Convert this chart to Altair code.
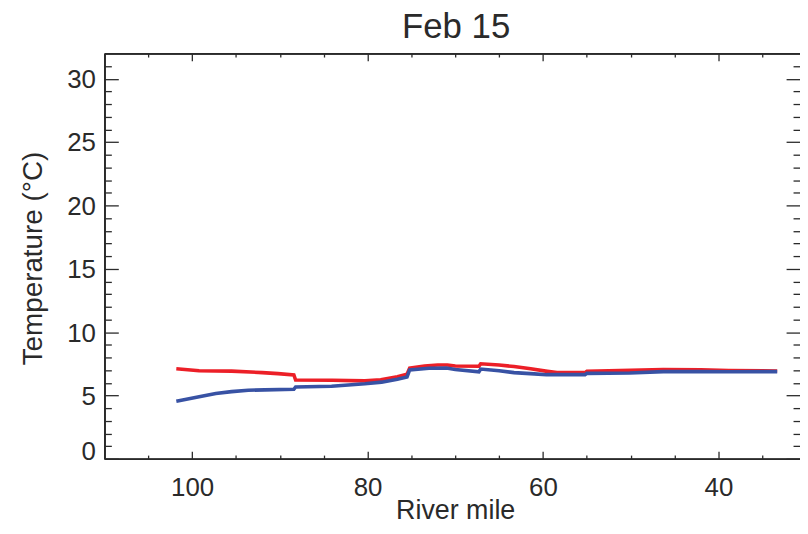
import altair as alt
import pandas as pd

# ---- text ----
title_text = "Feb 15"
x_title = "River mile"
y_title = "Temperature (°C)"

# ---- series ----
red_mile = [101.8, 99.2, 95.5, 92.0, 90.2, 88.4, 88.2, 84.0, 80.3, 78.5, 76.6, 75.5,
            75.2, 73.5, 72.0, 70.9, 70.0, 67.3, 67.1, 65.0, 63.3, 61.4, 59.5, 58.4,
            55.2, 55.0, 50.0, 46.3, 42.0, 38.8, 33.3]
red_temp = [7.10, 6.95, 6.92, 6.80, 6.72, 6.62, 6.22, 6.20, 6.15, 6.24, 6.48, 6.68,
            7.15, 7.33, 7.40, 7.40, 7.32, 7.30, 7.50, 7.40, 7.28, 7.10, 6.90, 6.80,
            6.80, 6.90, 6.98, 7.05, 7.02, 6.97, 6.93]

blue_mile = [101.8, 99.2, 97.3, 95.5, 93.6, 91.7, 88.4, 88.2, 84.1, 80.3, 78.4, 76.6,
             75.5, 75.2, 73.0, 71.0, 70.0, 67.3, 67.1, 65.0, 63.3, 61.0, 59.6, 55.2,
             55.0, 50.1, 46.3, 42.0, 38.8, 33.3]
blue_temp = [4.55, 4.89, 5.15, 5.30, 5.41, 5.44, 5.49, 5.67, 5.72, 5.92, 6.05, 6.28,
             6.45, 7.02, 7.15, 7.16, 7.05, 6.87, 7.08, 6.95, 6.80, 6.70, 6.64, 6.64,
             6.74, 6.77, 6.88, 6.88, 6.87, 6.88]

# ---- axes ----
x_domain = [30.7, 110]
y_domain = [0, 32]
x_major = [100, 80, 60, 40]
x_minor = [105, 95, 90, 85, 75, 70, 65, 55, 50, 45, 35]
y_major = [0, 5, 10, 15, 20, 25, 30]
y_minor = [1, 2, 3, 4, 6, 7, 8, 9, 11, 12, 13, 14, 16, 17, 18, 19,
           21, 22, 23, 24, 26, 27, 28, 29, 31]

rows = []
for i, (m, t) in enumerate(zip(red_mile, red_temp)):
    rows.append({"mile": m, "temp": t, "series": "upper", "idx": i})
for i, (m, t) in enumerate(zip(blue_mile, blue_temp)):
    rows.append({"mile": m, "temp": t, "series": "lower", "idx": i})
df = pd.DataFrame(rows)

W, H = 700, 408
INK = "#2a2a2a"
FONT = "Liberation Sans"
RED = "#ec1f27"
BLUE = "#3852a4"

xs = alt.Scale(domain=x_domain, reverse=True, nice=False, zero=False)
ys = alt.Scale(domain=y_domain, nice=False, zero=False)


def tick_axis(orient, values, size, offset, show_line=True):
    return alt.Axis(orient=orient, values=values, tickSize=size, offset=offset,
                    labels=False, title=None, domain=show_line, domainColor=INK,
                    domainWidth=1.6, ticks=True, tickColor=INK, tickWidth=1.3,
                    grid=False, minExtent=0, maxExtent=0)


x_label_axis = alt.Axis(
    orient="bottom", values=x_major, ticks=False, tickSize=0, labelPadding=16,
    labelFontSize=26, labelFont=FONT, labelColor=INK, labelFlush=False,
    domain=True, domainColor=INK, domainWidth=1.6, grid=False,
    title=x_title, titleFontSize=27, titleFont=FONT, titleColor=INK,
    titleFontWeight="normal", titleX=353, titleY=60, titleBaseline="alphabetic",
    titleAlign="center")

y_label_axis = alt.Axis(
    orient="left", values=y_major, ticks=False, tickSize=0, labelPadding=9,
    labelFontSize=26, labelFont=FONT, labelColor=INK, labelFlush=False,
    labelOffset={"condition": {"test": "datum.value === 0", "value": -7}, "value": 1},
    domain=True, domainColor=INK, domainWidth=1.6, grid=False,
    title=y_title, titleFontSize=28, titleFont=FONT, titleColor=INK,
    titleFontWeight="normal", titleAngle=270, titleX=-63, titleY=206,
    titleBaseline="alphabetic", titleAlign="center")

base = alt.Chart(df)


def line_layer(series, color, xaxis, yaxis):
    return base.transform_filter(alt.datum.series == series).mark_line(
        color=color, strokeWidth=3.6).encode(
        x=alt.X("mile:Q", scale=xs, axis=xaxis),
        y=alt.Y("temp:Q", scale=ys, axis=yaxis),
        order=alt.Order("idx:Q"))


def ghost_layer(xaxis, yaxis):
    return base.mark_line(opacity=0).encode(
        x=alt.X("mile:Q", scale=xs, axis=xaxis),
        y=alt.Y("temp:Q", scale=ys, axis=yaxis),
        detail="series:N",
        order=alt.Order("idx:Q"))


red = line_layer("upper", RED, x_label_axis, y_label_axis)
blue = line_layer("lower", BLUE, None, None)

g1 = ghost_layer(tick_axis("top", x_major, 7.5, -H), tick_axis("right", y_major, 14, -W))
g2 = ghost_layer(tick_axis("top", x_minor, 3.7, -H), tick_axis("right", y_minor, 7, -W))
g3 = ghost_layer(tick_axis("bottom", x_major, 7.5, -H),
                 tick_axis("left", y_major, 14, -W, show_line=False))
g4 = ghost_layer(tick_axis("bottom", x_minor, 3.7, -H),
                 tick_axis("left", y_minor, 7, -W, show_line=False))

chart = alt.layer(g1, g2, g3, g4, red, blue).resolve_axis(
    x="independent", y="independent"
).properties(
    width=W, height=H,
    autosize=alt.AutoSizeParams(type="none"),
    padding={"left": 97, "top": 44, "right": 0, "bottom": 66},
    title=alt.TitleParams(text=title_text, fontSize=35, font=FONT, color=INK,
                          fontWeight="normal", anchor="middle", offset=8,
                          baseline="alphabetic", dy=28, dx=4),
).configure_view(stroke="transparent")

chart.save("out.html", embed_options={"renderer": "svg", "actions": False})
